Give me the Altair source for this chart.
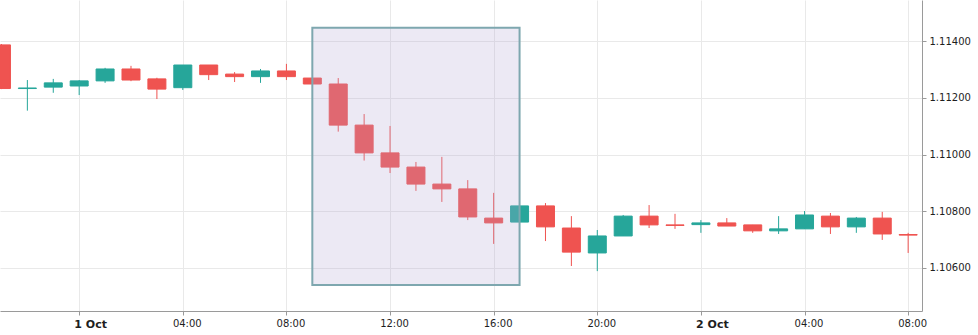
import altair as alt
import pandas as pd

# hourly candles, 30 Sep 21:00 UTC .. 2 Oct 08:00 UTC
times = pd.date_range("2019-09-30 21:00", periods=36, freq="h", tz="UTC")
opens = [1.11387, 1.11233, 1.11238, 1.11242, 1.11260, 1.11302, 1.11267, 1.11236, 1.11316, 1.11284,
         1.11275, 1.11295, 1.11270, 1.11249, 1.11104, 1.11006, 1.10956, 1.10896, 1.10879, 1.10776,
         1.10762, 1.10819, 1.10741, 1.10653, 1.10713, 1.10783, 1.10752, 1.10753, 1.10759, 1.10752,
         1.10731, 1.10738, 1.10783, 1.10745, 1.10776, 1.10718]
highs = [1.11390, 1.11263, 1.11267, 1.11263, 1.11306, 1.11313, 1.11271, 1.11316, 1.11316, 1.11291,
         1.11302, 1.11320, 1.11270, 1.11270, 1.11143, 1.11101, 1.10974, 1.10992, 1.10910, 1.10865,
         1.10819, 1.10829, 1.10783, 1.10734, 1.10787, 1.10822, 1.10791, 1.10769, 1.10776, 1.10752,
         1.10783, 1.10801, 1.10794, 1.10780, 1.10798, 1.10724]
lows = [1.11231, 1.11155, 1.11218, 1.11210, 1.11253, 1.11259, 1.11196, 1.11228, 1.11263, 1.11256,
        1.11253, 1.11263, 1.11249, 1.11081, 1.10979, 1.10935, 1.10872, 1.10833, 1.10769, 1.10685,
        1.10762, 1.10695, 1.10607, 1.10589, 1.10713, 1.10741, 1.10738, 1.10724, 1.10748, 1.10724,
        1.10720, 1.10738, 1.10720, 1.10724, 1.10699, 1.10653]
closes = [1.11233, 1.11235, 1.11253, 1.11260, 1.11302, 1.11263, 1.11231, 1.11316, 1.11282, 1.11275,
          1.11295, 1.11275, 1.11249, 1.11104, 1.11006, 1.10956, 1.10896, 1.10879, 1.10780, 1.10759,
          1.10819, 1.10745, 1.10656, 1.10713, 1.10783, 1.10752, 1.10750, 1.10759, 1.10748, 1.10731,
          1.10738, 1.10787, 1.10745, 1.10776, 1.10720, 1.10716]

# highlighted rectangle
box_start = "2019-10-01 09:00"
box_end = "2019-10-01 17:00"
box_top = 1.11447
box_bottom = 1.10540

# axes
view_start = "2019-09-30 21:08:12"
view_end = "2019-10-02 08:20:30"
y_min, y_max = 1.104483, 1.115453
y_ticks = [1.106, 1.108, 1.110, 1.112, 1.114]
x_tick_times = pd.date_range("2019-10-01 00:00", "2019-10-02 08:00", freq="4h", tz="UTC")


def ms(t):
    if isinstance(t, pd.Timestamp):
        return int(t.timestamp() * 1000)
    return int(pd.Timestamp(t, tz="UTC").timestamp() * 1000)


GREEN = "#26a69a"
RED = "#ef5350"

df = pd.DataFrame({
    "t": [ms(t) for t in times],
    "open": opens, "high": highs, "low": lows, "close": closes,
})
box_df = pd.DataFrame({"t": [ms(box_start)], "t2": [ms(box_end)],
                       "top": [box_top], "bottom": [box_bottom]})

x_scale = alt.Scale(type="utc", domain=[ms(view_start), ms(view_end)], nice=False)
y_scale = alt.Scale(domain=[y_min, y_max], nice=False, zero=False)

is_day = "utchours(datum.value) == 0"
x_axis = alt.Axis(
    values=[ms(t) for t in x_tick_times], title=None,
    labelExpr="utchours(datum.value) == 0 ? utcFormat(datum.value, '%-d %b') : utcFormat(datum.value, '%H:%M')",
    labelFontWeight={"condition": {"test": is_day, "value": "bold"}, "value": "normal"},
    labelFontSize={"condition": {"test": is_day, "value": 11}, "value": 10},
    labelOffset={"condition": {"test": is_day, "value": 11}, "value": 4},
    labelFlush=False,
)
y_axis = alt.Axis(orient="right", values=y_ticks, format=".5f", title=None)

color = alt.condition("datum.close >= datum.open", alt.value(GREEN), alt.value(RED))

base = alt.Chart(df)
wicks = base.mark_rule(strokeWidth=1, clip=True).encode(
    x=alt.X("t:T", scale=x_scale, axis=x_axis),
    y=alt.Y("low:Q", scale=y_scale, axis=y_axis),
    y2="high:Q",
    color=color,
)
bodies = base.mark_bar(size=18, strokeWidth=1, clip=True).encode(
    x=alt.X("t:T", scale=x_scale),
    y=alt.Y("open:Q", scale=y_scale),
    y2="close:Q",
    fill=color,
    stroke=color,
)
box = alt.Chart(box_df).mark_rect(
    fill="#b3a7d3", fillOpacity=0.25, stroke="#7ea7af", strokeWidth=2, clip=True
).encode(
    x=alt.X("t:T", scale=x_scale),
    x2="t2:T",
    y=alt.Y("top:Q", scale=y_scale),
    y2="bottom:Q",
)

chart = alt.layer(wicks, bodies, box).properties(
    width=922, height=311,
    autosize=alt.AutoSizeParams(type="none"),
    padding={"left": 0, "top": 0, "right": 56, "bottom": 24},
    background="white",
).configure_view(strokeWidth=0).configure_axis(
    grid=True, gridColor="#e9e9e9", gridWidth=1,
    domainColor="#9a9a9a", tickColor="#9a9a9a", tickSize=4,
    labelColor="#1e1e1e", labelFont="DejaVu Sans", labelFontSize=10, labelPadding=3,
)

chart.save("out.html", embed_options={"renderer": "svg", "actions": False})
